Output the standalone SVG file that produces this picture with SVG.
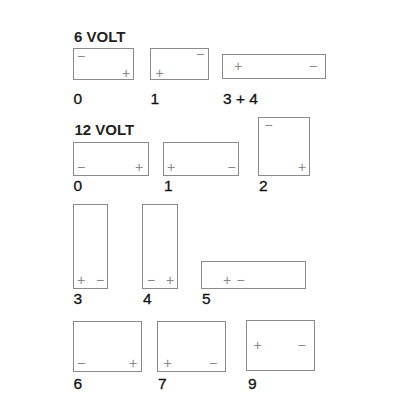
<svg xmlns="http://www.w3.org/2000/svg" width="406" height="400" viewBox="0 0 406 400">
<style>
.b{fill:#fff;stroke:#8a8a8a;stroke-width:1}
.h{font-family:"Liberation Sans",Arial,sans-serif;font-size:15px;font-weight:bold;fill:#222}
.l{font-family:"Liberation Sans",Arial,sans-serif;font-size:15.5px;fill:#111;stroke:#111;stroke-width:0.3}
.s{font-family:"Liberation Sans",Arial,sans-serif;font-size:14px;fill:#888;text-anchor:middle;dominant-baseline:central}
</style>
<rect width="406" height="400" fill="#fff"/>
<text class="h" x="74" y="42">6 VOLT</text>
<g id="v6-0"><rect class="b" x="73.5" y="48.5" width="60" height="31"/><text class="s" x="81" y="56">−</text><text class="s" x="126" y="72.5">+</text><text class="l" x="73.5" y="104">0</text></g>
<g id="v6-1"><rect class="b" x="150.5" y="48.5" width="58" height="31"/><text class="s" x="200" y="53.5">−</text><text class="s" x="159.5" y="73">+</text><text class="l" x="150.5" y="104">1</text></g>
<g id="v6-34"><rect class="b" x="222.5" y="54.5" width="103" height="24"/><text class="s" x="238" y="65.5">+</text><text class="s" x="313" y="65.5">−</text><text class="l" x="223" y="104">3 + 4</text></g>
<text class="h" x="74.5" y="135">12 VOLT</text>
<g id="v12-0"><rect class="b" x="73.5" y="142.5" width="75" height="33"/><text class="s" x="81" y="167">−</text><text class="s" x="139" y="167">+</text><text class="l" x="73.5" y="191">0</text></g>
<g id="v12-1"><rect class="b" x="163.5" y="142.5" width="75" height="33"/><text class="s" x="171" y="167">+</text><text class="s" x="231.5" y="167">−</text><text class="l" x="164" y="191">1</text></g>
<g id="v12-2"><rect class="b" x="258.5" y="117.5" width="51" height="58"/><text class="s" x="268.5" y="124.5">−</text><text class="s" x="302" y="167">+</text><text class="l" x="259" y="191">2</text></g>
<g id="v12-3"><rect class="b" x="73.5" y="204.5" width="34" height="84"/><text class="s" x="81" y="280">+</text><text class="s" x="100" y="280">−</text><text class="l" x="73.5" y="303.5">3</text></g>
<g id="v12-4"><rect class="b" x="142.5" y="204.5" width="35" height="84"/><text class="s" x="151" y="280">−</text><text class="s" x="170" y="280">+</text><text class="l" x="143" y="303.5">4</text></g>
<g id="v12-5"><rect class="b" x="201.5" y="261.5" width="104" height="27"/><text class="s" x="227" y="279.5">+</text><text class="s" x="240.5" y="279.5">−</text><text class="l" x="202" y="303.5">5</text></g>
<g id="v12-6"><rect class="b" x="73.5" y="321.5" width="68" height="50"/><text class="s" x="81" y="363">−</text><text class="s" x="133" y="363">+</text><text class="l" x="73.5" y="388.5">6</text></g>
<g id="v12-7"><rect class="b" x="157.5" y="321.5" width="68" height="50"/><text class="s" x="167.5" y="363">+</text><text class="s" x="213" y="363">−</text><text class="l" x="158" y="388.5">7</text></g>
<g id="v12-9"><rect class="b" x="246.5" y="320.5" width="68" height="50"/><text class="s" x="257.5" y="345">+</text><text class="s" x="301.5" y="345">−</text><text class="l" x="248" y="388.5">9</text></g>
<g id="connectors"/>
</svg>
